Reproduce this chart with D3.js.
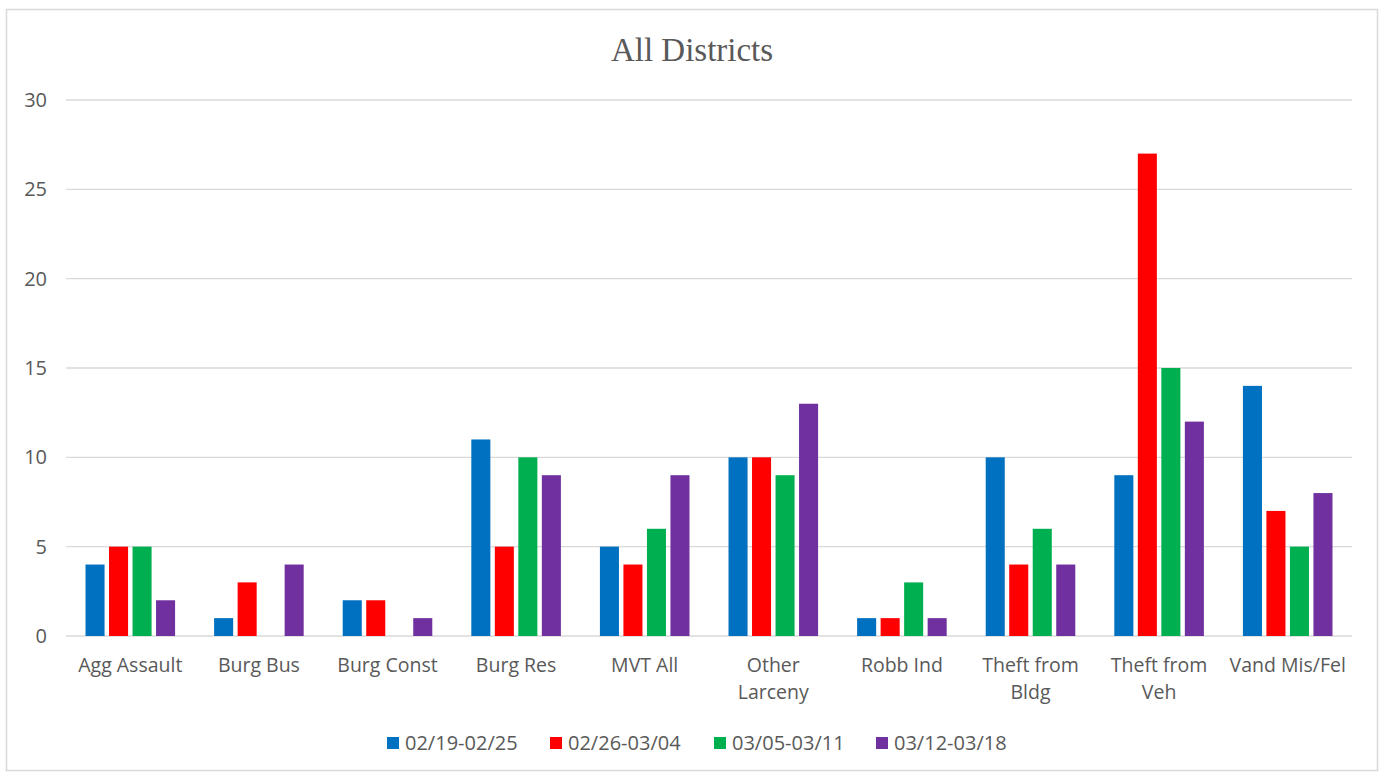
<!DOCTYPE html>
<html>
<head>
<meta charset="utf-8">
<script src="https://cdn.jsdelivr.net/npm/d3@7"></script>
<style>
	body { margin: 0; background: #fff; }
	svg { display: block; }
	.axis text { font-family: "Open Sans", "Liberation Sans", sans-serif; fill: #595959; }
</style>
</head>
<body>
<svg id="chart"></svg>
<script>
var categories = [ "Agg Assault", "Burg Bus", "Burg Const", "Burg Res", "MVT All",
	"Other Larceny", "Robb Ind", "Theft from Bldg", "Theft from Veh", "Vand Mis/Fel" ];

// label lines as they wrap in the picture
var category_lines = [ ["Agg Assault"], ["Burg Bus"], ["Burg Const"], ["Burg Res"], ["MVT All"],
	["Other", "Larceny"], ["Robb Ind"], ["Theft from", "Bldg"], ["Theft from", "Veh"], ["Vand Mis/Fel"] ];

var series_names = [ "02/19-02/25", "02/26-03/04", "03/05-03/11", "03/12-03/18" ];
var series_colors = [ "#0070C0", "#FF0000", "#00B050", "#7030A0" ];

var week1 = [ 4, 1, 2, 11, 5, 10, 1, 10,  9, 14 ];
var week2 = [ 5, 3, 2,  5, 4, 10, 1,  4, 27,  7 ];
var week3 = [ 5, 0, 0, 10, 6,  9, 3,  6, 15,  5 ];
var week4 = [ 2, 4, 1,  9, 9, 13, 1,  4, 12,  8 ];

var y_ticks = [ 0, 5, 10, 15, 20, 25, 30 ];

var series_values = [ week1, week2, week3, week4 ];

var W = 1382, H = 774;
var margin = { top : 100, right : 30, bottom : 138, left : 66 };
var width  = W - margin.left - margin.right;
var height = H - margin.top  - margin.bottom;

var root = d3.select( "#chart" ).attr( "width", W ).attr( "height", H );

// chart frame
root.append( "rect" )
	.attr( "x", 6.5 ).attr( "y", 9.5 )
	.attr( "width", 1371 ).attr( "height", 761 )
	.attr( "fill", "#fff" )
	.attr( "stroke", "#D9D9D9" )
	.attr( "stroke-width", 1.5 );

root.append( "text" )
	.attr( "x", 692 ).attr( "y", 61 )
	.attr( "text-anchor", "middle" )
	.style( "font-family", "'Liberation Serif', 'DejaVu Serif', serif" )
	.style( "font-size", "33px" )
	.style( "fill", "#595959" )
	.text( "All Districts" );

var svg = root.append( "g" )
	.attr( "transform", "translate(" + margin.left + "," + margin.top + ")" );

var x0 = d3.scaleBand().domain( categories ).range([ 0, width ]);
var x1 = d3.scaleBand().domain( series_names ).range([ 0, x0.bandwidth() ])
	.paddingInner( 0.19 ).paddingOuter( 0.83 );
var y = d3.scaleLinear().domain([ 0, 30 ]).range([ height, 0 ]);

// gridlines
svg.append( "g" )
	.selectAll( "line" )
	.data( y_ticks )
	.enter()
	.append( "line" )
		.attr( "x1", 0 ).attr( "x2", width )
		.attr( "y1", d => y( d ) ).attr( "y2", d => y( d ) )
		.attr( "stroke", "#D9D9D9" )
		.attr( "stroke-width", 1.3 );

// Y axis labels
var y_axis = d3.axisLeft( y ).tickValues( y_ticks ).tickSize( 0 ).tickPadding( 19 );
svg.append( "g" )
	.attr( "class", "axis" )
	.call( y_axis )
	.call( g => g.select( ".domain" ).remove() )
	.selectAll( "text" ).style( "font-size", "20px" );

// bars
var groups = svg.append( "g" )
	.selectAll( "g" )
	.data( series_names )
	.enter()
	.append( "g" )
		.attr( "fill", (d, i) => series_colors[ i ] );

groups.selectAll( "rect" )
	.data( (s, i) => series_values[ i ].map( (v, j) => ({ cat : categories[ j ], series : s, val : v }) ) )
	.enter()
	.filter( d => d.val > 0 )
	.append( "rect" )
		.attr( "x", d => x0( d.cat ) + x1( d.series ) )
		.attr( "y", d => y( d.val ) )
		.attr( "width", x1.bandwidth() )
		.attr( "height", d => height - y( d.val ) );

// X axis labels
var x_axis = svg.append( "g" )
	.attr( "class", "axis" )
	.attr( "transform", "translate(0," + height + ")" );

x_axis.selectAll( "text" )
	.data( categories )
	.enter()
	.append( "text" )
		.attr( "x", d => x0( d ) + x0.bandwidth() / 2 )
		.attr( "y", 36 )
		.attr( "text-anchor", "middle" )
		.style( "font-size", "19.5px" )
		.each( function( d, i ){
			var t = d3.select( this );
			category_lines[ i ].forEach( (line, k) => {
				t.append( "tspan" )
					.attr( "x", x0( d ) + x0.bandwidth() / 2 )
					.attr( "dy", k === 0 ? 0 : 27 )
					.text( line );
			});
		});

// legend
var legend_x = [ 387, 550, 714, 876 ];
var legend = root.append( "g" ).attr( "class", "axis" );
series_names.forEach( (name, i) => {
	legend.append( "rect" )
		.attr( "x", legend_x[ i ] ).attr( "y", 737 )
		.attr( "width", 12 ).attr( "height", 12 )
		.attr( "fill", series_colors[ i ] );
	legend.append( "text" )
		.attr( "x", legend_x[ i ] + 18 ).attr( "y", 750 )
		.style( "font-size", "20px" )
		.text( name );
});
</script>
</body>
</html>
